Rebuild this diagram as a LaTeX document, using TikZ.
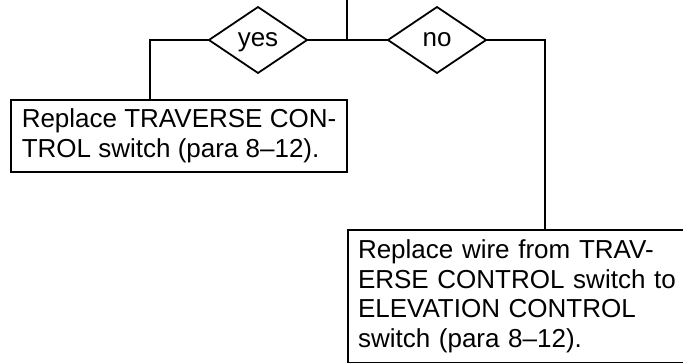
\documentclass[tikz,border=0pt]{standalone}
\usepackage{fontspec}
\setmainfont{Liberation Sans}
\usetikzlibrary{shapes.geometric}
\begin{document}
\begin{tikzpicture}[x=1pt,y=-1pt,line width=1.8pt,
  every node/.style={font=\fontsize{26}{29.7}\selectfont},
  choice/.style={draw,diamond,aspect=1.5,minimum width=98pt,minimum height=66pt,inner sep=0pt,outer sep=0pt,text depth=0pt},
  action/.style={draw,rectangle,anchor=north west,align=left,inner xsep=10pt,inner ysep=0pt,outer sep=0pt}]
\useasboundingbox (0,0) rectangle (683,362);
\coordinate (top) at (347,0);
\coordinate (j) at (347,40);
\node[choice] (yes) at (258,40) {yes};
\node[choice] (no) at (437,40) {no};
\node[action,minimum height=72pt,minimum width=336pt] (a) at (11,100)
  {Replace TRAVERSE CON-\\TROL switch (para 8--12).};
\node[action,minimum height=132.5pt,text width=332pt] (b) at (348,230)
  {Replace wire from TRAV-\\ERSE CONTROL switch to\\ELEVATION CONTROL\\switch (para 8--12).};
\draw (top) -- (j);
\draw (j) -- (yes.east);
\draw (j) -- (no.west);
\draw (yes.west) -| ([xshift=139pt]a.north west);
\draw (no.east) -| ([xshift=197pt]b.north west);
\end{tikzpicture}
\end{document}
